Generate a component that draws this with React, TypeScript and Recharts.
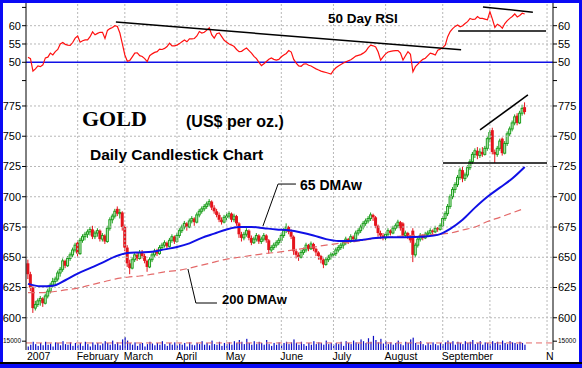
import React from 'react';
import { ComposedChart, Bar, Line, XAxis, YAxis, ReferenceLine } from 'recharts';

// ---------- axis / category data ----------
const monthTicks = [0, 20, 39, 60, 80, 102, 123, 144, 167, 186, 209];
const monthLabels = ['2007', 'February', 'March', 'April', 'May', 'June', 'July', 'August', 'September', '', 'N'];
const priceTicks = [600, 625, 650, 675, 700, 725, 750, 775];
const rsiTicks = [45, 50, 55, 60, 65];
const rsiLabelTicks = [50, 55, 60];
const volTicks = [15];

// ---------- daily candles [open, high, low, close] ----------
type OHLC = [number, number, number, number];
const jan: OHLC[] = [
  [645,648,632,636],[636,638,622,625],[625,626,604,608],[608,614,606,611],[611,616,609,614],
  [614,618,610,616],[616,617,609,612],[612,620,611,618],[618,624,616,622],[622,629,620,627],
  [627,633,625,630],[630,634,627,632],[632,639,630,637],[637,642,634,640],[640,649,638,647],
  [647,648,641,643],[643,651,642,649],[649,654,647,652],[652,658,650,656],[656,662,654,660],
];
const feb: OHLC[] = [
  [662,664,650,653],[653,666,652,664],[664,669,662,667],[667,671,664,669],[669,673,666,671],
  [671,675,668,673],[673,676,665,667],[667,672,665,670],[670,674,667,672],[672,673,663,665],
  [665,670,663,668],[668,669,661,663],[663,676,662,674],[674,683,672,681],[681,686,678,684],
  [684,690,682,688],[690,692,684,686],[686,690,682,687],[687,688,672,675],
];
const mar: OHLC[] = [
  [675,677,655,658],[658,660,642,645],[645,648,636,641],[641,650,640,648],[648,654,646,652],
  [652,654,647,649],[649,656,648,654],[654,656,649,651],[651,653,645,647],[647,648,638,642],
  [642,650,641,648],[648,654,646,652],[652,657,650,655],[655,657,651,653],[653,660,652,658],
  [658,662,656,660],[660,664,658,662],[662,663,657,659],[659,666,658,664],[664,669,662,667],
  [667,668,661,663],
];
const apr: OHLC[] = [
  [663,670,662,668],[668,674,666,672],[672,677,670,675],[675,680,673,678],[678,679,672,675],
  [675,682,674,680],[680,684,678,682],[682,683,676,679],[679,687,678,685],[685,690,683,688],
  [688,692,686,690],[690,694,688,692],[692,696,690,694],[694,698,692,696],[696,697,689,691],
  [691,693,686,688],[688,690,683,685],[685,687,679,681],[681,683,677,679],[679,685,678,683],
];
const may: OHLC[] = [
  [683,687,680,684],[684,688,682,686],[686,687,679,681],[681,686,679,684],[684,685,676,678],
  [678,679,666,669],[669,671,663,666],[666,671,664,669],[669,674,667,672],[672,673,664,666],
  [666,668,660,662],[662,667,661,665],[665,670,663,668],[668,669,661,663],[663,667,661,665],
  [665,670,663,668],[668,669,662,664],[664,665,653,656],[656,660,654,658],[658,662,656,660],
  [660,664,658,662],[662,666,660,664],
];
const jun: OHLC[] = [
  [664,670,662,668],[668,674,666,672],[672,678,670,675],[675,676,669,671],[671,673,665,667],
  [667,668,652,655],[655,657,649,652],[652,654,647,650],[650,656,649,654],[654,658,652,656],
  [656,662,654,660],[660,661,655,657],[657,663,656,661],[661,662,655,657],[657,658,651,654],
  [654,655,648,651],[651,652,645,648],[648,649,641,644],[644,650,643,648],[648,652,646,650],
  [650,654,648,652],
];
const jul: OHLC[] = [
  [652,655,650,653],[653,658,651,656],[656,660,654,658],[658,662,656,660],[660,664,657,662],
  [662,667,660,665],[665,666,661,663],[663,669,662,667],[667,668,663,665],[665,672,664,670],
  [670,674,668,672],[672,677,670,675],[675,680,673,678],[678,682,676,680],[680,684,678,682],
  [682,687,680,685],[685,686,680,683],[683,684,674,676],[676,677,667,670],[670,672,665,668],
  [668,670,664,666],
];
const aug: OHLC[] = [
  [666,671,664,669],[669,674,667,672],[672,673,668,670],[670,676,669,674],[674,678,672,676],
  [676,681,674,679],[679,680,672,674],[678,679,666,668],[668,672,666,670],[670,671,665,667],
  [667,668,662,664],[672,674,646,652],[652,662,650,660],[660,667,658,665],[665,670,663,668],
  [668,669,664,666],[666,671,665,669],[669,672,667,670],[670,674,668,672],[672,673,669,671],
  [671,676,670,674],[674,675,671,673],[673,678,672,676],
];
const sep: OHLC[] = [
  [676,684,675,682],[682,688,680,686],[686,694,684,692],[692,702,690,700],[700,708,698,706],
  [706,712,703,710],[710,718,708,716],[716,724,714,722],[722,725,712,715],[715,720,713,718],
  [718,726,716,724],[724,731,722,729],[729,737,727,735],[735,740,732,738],[738,741,731,734],
  [734,740,732,737],[737,741,733,735],[735,742,734,740],[740,750,738,748],
];
const oct: OHLC[] = [
  [748,755,745,753],[755,757,735,737],[737,739,728,735],[735,742,733,740],[740,748,738,746],
  [748,749,734,736],[736,746,735,744],[744,754,742,752],[752,758,750,756],[756,763,754,761],
  [761,768,759,766],[767,769,759,761],[761,771,760,769],[769,776,767,773],[774,778,768,770],
];

// ---------- 50 day RSI (daily) ----------
const rsiValues = [
  51.4,51.0,47.6,48.2,49,48.8,49.3,51.2,51.4,52.5,
  52,52.9,53.5,55,55.4,54.9,54.7,54.6,55.4,56.6,
  57.2,55.5,55.9,56.1,56.1,57,58.3,57.5,57.9,58.2,
  58.2,56.5,58.7,59.2,59.5,60,59.8,58,55,52,
  50.3,50.5,51.5,52.5,52.6,51.8,51.6,51,50.2,51.8,
  52.3,52.7,52.9,53.6,53.5,53.8,54.3,55.2,54.5,54.5,
  54.7,55.1,55.6,56.1,55.6,56.4,56.4,56.5,57.2,58.4,
  58,58.2,58.8,59.4,57.5,56.6,57.8,58,57,56,
  55.5,55,54.7,54.3,53.5,52.9,53,53.5,53.9,53.2,
  52.5,51.6,51,50,49.1,49.6,50.2,50.8,51.2,50.8,
  50.6,50.8,51.5,52,52.4,53.2,52.8,50.8,49.8,49,
  48.9,49.5,49.6,49.2,49,48.6,48.2,47.9,47.6,47.4,
  47.2,47,46.8,47.8,48.5,49,49.4,49.8,50.1,50.4,
  50.7,51.2,51.7,51.9,52.1,52.5,53,54,54.7,54.5,
  54.2,52.8,50.6,51.5,52.3,52.8,53,53.1,53.2,53.2,
  52.5,50.6,51.8,52.9,52.2,47.4,48.8,49.5,50.2,50.8,
  51.1,51.8,52.5,52.3,52,53.3,53.6,54,54.7,57,
  58.4,59.2,59.8,60.2,59.7,60,60.6,61.1,62,61.7,
  61.8,62.5,62,62,61.8,61.6,63.8,61.8,59.5,60.4,
  60,59.3,60.6,61.4,62,62.5,63.2,62.4,62.8,63.4,
  63.2,
];

// ---------- volume (thousands) ----------
const volumeValues = [
  6,9,14,10,7,12,8,14,9,11,6,13,12,8,15,10,9,13,7,12,
  9,12,7,14,10,6,13,9,12,8,11,15,12,9,16,10,13,8,18,
  22,16,12,9,13,7,11,12,6,10,14,11,8,12,9,15,10,7,12,9,13,
  8,11,9,12,6,13,9,8,12,10,15,9,12,8,16,10,9,14,7,12,
  10,13,9,15,12,17,14,10,19,12,9,15,10,14,12,9,17,10,7,12,9,13,
  9,12,14,10,13,18,12,9,14,10,7,12,9,15,10,13,12,9,16,10,12,
  9,12,10,14,7,15,12,10,16,13,11,18,15,12,20,14,24,17,13,19,11,
  15,10,13,9,12,16,10,8,14,12,18,21,12,9,15,10,8,12,9,13,10,8,12,
  10,13,16,12,15,9,14,12,10,15,12,14,17,10,12,15,9,13,12,
  10,15,12,14,9,16,12,10,15,13,12,10,14,12,9,
];
const volumeAverage = 12;

// ---------- moving averages, read every 5th trading day ----------
const ma65Every5 = [
  628,626,626.5,631,636.5,641,645.5,650.5,653.5,654,654.5,656.5,658.5,661.5,666,669.5,673,675,675,674,
  673,672.3,670.5,668,665,663.5,663.5,664.5,666,666.5,666.5,666.7,667.2,668.5,673.5,681,691,700,707.5,715,724.5,
];
const ma200Every5 = [
  620.8,620.8,621.5,623,624.5,627,629.5,632,633.5,634.5,636,638,639,641,643.5,646,648.5,650,651.5,653,
  654,655.5,657,658.5,660,661.5,662.5,664,665.5,666.5,667.5,668,668.5,669,670,672.5,675,679.5,683,686.7,690.5,
];

// ---------- trendlines (index, value) ----------
const rsiTrendLong = [{ x: 35.4, y: 61.0 }, { x: 174.4, y: 53.4 }];
const rsiTrendTop = [{ x: 183.2, y: 65.1 }, { x: 203.3, y: 63.7 }];
const rsiSupport = [{ x: 173.2, y: 58.55 }, { x: 208.6, y: 58.55 }];
const priceSupport = [{ x: 167.1, y: 727.9 }, { x: 209, y: 727.9 }];
const priceRising = [{ x: 182.0, y: 755.2 }, { x: 201.3, y: 784.1 }];
const lead65a = [{ x: 94.6, y: 675.8 }, { x: 100.7, y: 710.5 }];
const lead65b = [{ x: 100.7, y: 710.5 }, { x: 107.9, y: 710.5 }];
const lead200a = [{ x: 64.4, y: 640.3 }, { x: 67.6, y: 612.2 }];
const lead200b = [{ x: 67.6, y: 612.2 }, { x: 76.1, y: 612.2 }];

const candles: OHLC[] = [...jan, ...feb, ...mar, ...apr, ...may, ...jun, ...jul, ...aug, ...sep, ...oct];
const data = candles.map(([o, h, l, c], i) => ({
  i, o, h, l, c,
  range: [l, h],
  rsi: rsiValues[i],
  vol: volumeValues[i],
  ma65: i % 5 === 0 ? ma65Every5[i / 5] : null,
  ma200: i % 5 === 0 ? ma200Every5[i / 5] : null,
}));

// ---------- styling ----------
const FONT = '"Liberation Sans", Arial, sans-serif';
const RED = '#e5141c';
const GREEN = '#1f9f1f';
const GREEN_FILL = '#c6efc6';
const BLUE = '#1010e6';
const GRID = '#b8b8b8';
const XDOMAIN: [number, number] = [-0.8, 211.4];
const W = 582;
const MARGIN_L = 4;
const MARGIN_R = 4;
const LEFT_W = 22;
const RIGHT_W = 25;

const Candle = (props: any) => {
  const { x, y, width, height, payload } = props;
  if (!payload || payload.o == null || x == null) return null;
  const { o, h, l, c } = payload;
  const top = Math.min(y, y + height);
  const span = Math.abs(height);
  const toY = (v: number) => (h === l ? top : top + ((h - v) / (h - l)) * span);
  const cx = x + width / 2;
  const up = c >= o;
  const yo = toY(o);
  const yc = toY(c);
  const bt = Math.min(yo, yc);
  const bh = Math.max(1, Math.abs(yo - yc));
  const col = up ? GREEN : RED;
  return (
    <g>
      <line x1={cx} x2={cx} y1={top} y2={top + span} stroke={col} strokeWidth={1} />
      {up ? (
        <rect x={cx - 1} y={bt} width={2} height={bh} fill={GREEN_FILL} stroke={col} strokeWidth={1} />
      ) : (
        <rect x={cx - 1.5} y={bt} width={3} height={bh} fill={col} />
      )}
    </g>
  );
};

const VolBar = (props: any) => {
  const { x, y, width, height } = props;
  if (x == null || !height) return null;
  const cx = x + width / 2;
  const top = Math.min(y, y + height);
  return <rect x={cx - 0.6} y={top} width={1.2} height={Math.abs(height)} fill="#0c0cc4" />;
};

const makeYTick = (side: 'left' | 'right', show: number[] | null, fmt?: (v: number) => string, size = 11) =>
  (p: any) => {
    const v = p.payload.value;
    if (show && !show.includes(v)) return <g />;
    return (
      <text
        x={p.x}
        y={p.y}
        dy="0.35em"
        textAnchor={side === 'left' ? 'end' : 'start'}
        fontSize={size}
        fontFamily={FONT}
        fill="#000"
      >
        {fmt ? fmt(v) : String(v)}
      </text>
    );
  };

const MonthTick = (p: any) => {
  const idx = monthTicks.indexOf(p.payload.value);
  const label = idx >= 0 ? monthLabels[idx] : '';
  return (
    <text x={p.x - 1} y={p.y + 10} fontSize={10.5} fontFamily={FONT} fill="#000" textAnchor="start">
      {label}
    </text>
  );
};

const vGrid = (yId: string) =>
  monthTicks
    .filter((t) => t !== 0)
    .map((t) => (
      <ReferenceLine key={'vg' + t} yAxisId={yId} x={t} stroke={GRID} strokeDasharray="2 2" strokeWidth={1} />
    ));

const axisCommon = {
  axisLine: { stroke: '#000', strokeWidth: 1 },
  tickLine: { stroke: '#000', strokeWidth: 1 },
  tickSize: 4,
  tickMargin: 1,
  allowDataOverflow: true,
  interval: 0 as const,
};

const seg = (yId: string, s: { x: number; y: number }[], key: string, w = 1.5) => (
  <ReferenceLine key={key} yAxisId={yId} segment={s as any} stroke="#000" strokeWidth={w} ifOverflow="visible" />
);

export default function App() {
  return (
    <div style={{ position: 'absolute', left: 0, top: 0, width: W, height: 368, background: '#fff', overflow: 'hidden', fontFamily: FONT }}>
      {/* RSI panel */}
      <div style={{ position: 'absolute', left: 0, top: 0 }}>
        <ComposedChart width={W} height={86} data={data} margin={{ top: 3, right: MARGIN_R, bottom: 0, left: MARGIN_L }}>
          <XAxis dataKey="i" type="number" domain={XDOMAIN} hide allowDataOverflow />
          <YAxis yAxisId="l" orientation="left" width={LEFT_W} domain={[43.52, 66.2]} ticks={rsiTicks}
            tick={makeYTick('left', rsiLabelTicks)} {...axisCommon} />
          <YAxis yAxisId="r" orientation="right" width={RIGHT_W} domain={[43.52, 66.2]} ticks={rsiTicks}
            tick={makeYTick('right', rsiLabelTicks)} {...axisCommon} />
          {vGrid('l')}
          <ReferenceLine yAxisId="l" y={55} stroke={GRID} strokeDasharray="2 2" />
          <ReferenceLine yAxisId="l" y={60} stroke={GRID} strokeDasharray="2 2" />
          <ReferenceLine yAxisId="l" y={50} stroke={BLUE} strokeWidth={1.5} />
          <Line yAxisId="l" dataKey="rsi" stroke="#ff1010" strokeWidth={1.2} dot={false} isAnimationActive={false} type="linear" />
          {seg('l', rsiTrendLong, 't1')}
          {seg('l', rsiTrendTop, 't2')}
          {seg('l', rsiSupport, 't3')}
        </ComposedChart>
      </div>

      {/* Price panel */}
      <div style={{ position: 'absolute', left: 0, top: 86 }}>
        <ComposedChart width={W} height={244} data={data} margin={{ top: 0, right: MARGIN_R, bottom: 0, left: MARGIN_L }}>
          <XAxis dataKey="i" type="number" domain={XDOMAIN} hide allowDataOverflow />
          <YAxis yAxisId="l" orientation="left" width={LEFT_W} domain={[589.9, 791.5]} ticks={priceTicks}
            tick={makeYTick('left', null)} {...axisCommon} />
          <YAxis yAxisId="r" orientation="right" width={RIGHT_W} domain={[589.9, 791.5]} ticks={priceTicks}
            tick={makeYTick('right', null)} {...axisCommon} />
          {vGrid('l')}
          {priceTicks.map((t) => (
            <ReferenceLine key={'hg' + t} yAxisId="l" y={t} stroke={GRID} strokeDasharray="2 2" />
          ))}
          <Bar yAxisId="l" dataKey="range" barSize={3} shape={Candle} isAnimationActive={false} />
          <Line yAxisId="l" dataKey="ma200" stroke="#e46a6a" strokeWidth={1.2} strokeDasharray="7 4" dot={false}
            connectNulls type="monotone" isAnimationActive={false} />
          <Line yAxisId="l" dataKey="ma65" stroke={BLUE} strokeWidth={2} dot={false}
            connectNulls type="monotone" isAnimationActive={false} />
          {seg('l', priceSupport, 'p1')}
          {seg('l', priceRising, 'p2')}
          {seg('l', lead65a, 'l1', 1)}
          {seg('l', lead65b, 'l2', 1)}
          {seg('l', lead200a, 'l3', 1)}
          {seg('l', lead200b, 'l4', 1)}
        </ComposedChart>
      </div>

      {/* Volume panel + dates */}
      <div style={{ position: 'absolute', left: 0, top: 330 }}>
        <ComposedChart width={W} height={34} data={data} margin={{ top: 0, right: MARGIN_R, bottom: 0, left: MARGIN_L }}>
          <XAxis dataKey="i" type="number" domain={XDOMAIN} ticks={monthTicks} interval={0} tick={MonthTick}
            axisLine={false} tickLine={false} tickSize={0} tickMargin={0} height={14} allowDataOverflow />
          <YAxis yAxisId="l" orientation="left" width={LEFT_W} domain={[0, 34]} ticks={volTicks}
            tick={makeYTick('left', null, (v) => String(v * 1000), 6.5)} {...axisCommon} />
          <YAxis yAxisId="r" orientation="right" width={RIGHT_W} domain={[0, 34]} ticks={volTicks}
            tick={makeYTick('right', null, (v) => String(v * 1000), 6.5)} {...axisCommon} />
          {vGrid('l')}
          <Bar yAxisId="l" dataKey="vol" barSize={1} shape={VolBar} isAnimationActive={false} />
          <ReferenceLine yAxisId="l" y={volumeAverage} stroke="#e46a6a" strokeDasharray="6 4" strokeWidth={1} />
        </ComposedChart>
      </div>

      {/* Annotations */}
      <svg width={W} height={368} style={{ position: 'absolute', left: 0, top: 0, pointerEvents: 'none' }}>
        <text x={328} y={23} fontSize={13.5} fontWeight="bold" fontFamily={FONT} fill="#000">50 Day RSI</text>
        <text x={82} y={126} fontSize={22} fontWeight="bold" fontFamily='"Liberation Serif", "Times New Roman", serif' fill="#000">GOLD</text>
        <text x={186} y={127} fontSize={16} fontWeight="bold" fontFamily={FONT} fill="#000">(US$ per oz.)</text>
        <text x={90} y={159.5} fontSize={15.5} fontWeight="bold" fontFamily={FONT} fill="#000">Daily Candlestick Chart</text>
        <text x={300} y={190} fontSize={14} fontWeight="bold" fontFamily={FONT} fill="#000">65 DMAw</text>
        <text x={222} y={304} fontSize={13} fontWeight="bold" fontFamily={FONT} fill="#000">200 DMAw</text>
      </svg>

      {/* Frame */}
      <div style={{ position: 'absolute', left: 0, top: 0, width: W, height: 3, background: '#0a0af5' }} />
      <div style={{ position: 'absolute', left: 0, top: 0, width: 3, height: 368, background: '#0a0af5' }} />
      <div style={{ position: 'absolute', left: 579, top: 0, width: 3, height: 368, background: '#0a0af5' }} />
      <div style={{ position: 'absolute', left: 0, top: 362, width: W, height: 2, background: '#000' }} />
      <div style={{ position: 'absolute', left: 0, top: 364, width: W, height: 4, background: '#0a0af5' }} />
    </div>
  );
}
